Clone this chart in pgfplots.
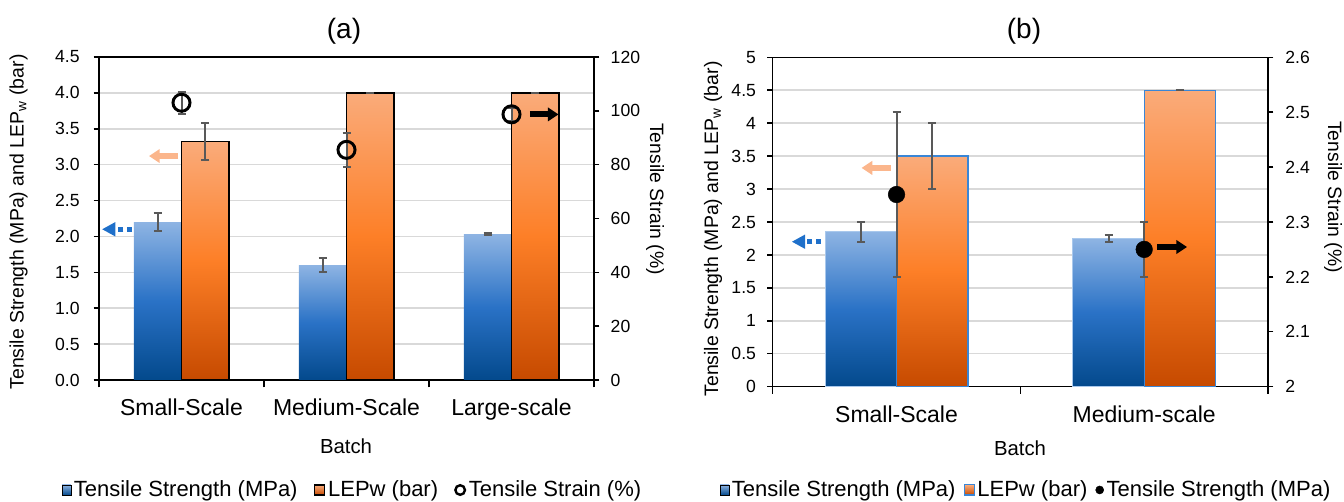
\documentclass[border=0pt]{standalone}
\usepackage{pgfplots}
\pgfplotsset{compat=1.18}
\usepackage{fontspec}
\setmainfont{Liberation Sans}
\usetikzlibrary{arrows.meta}
\definecolor{bTop}{HTML}{8EB4E3}
\definecolor{bMid}{HTML}{2A72C6}
\definecolor{bBot}{HTML}{03498C}
\definecolor{oTop}{HTML}{FAAB7A}
\definecolor{oMid}{HTML}{FD7F27}
\definecolor{oBot}{HTML}{C64A00}
\definecolor{ebar}{HTML}{595959}
\definecolor{gridc}{HTML}{D9D9D9}
\definecolor{arrOr}{HTML}{FBB68C}
\definecolor{arrBl}{HTML}{1F70CA}
\definecolor{bEdge}{HTML}{3A86D6}
\definecolor{bLight}{HTML}{A9C8EC}
\newcommand{\tickfont}{\fontsize{13.2}{15}\selectfont}
\pgfplotsset{
  common/.style={scale only axis, anchor=south west,
    axis line style={black, line width=1.1pt},
    tick style={black, line width=1.1pt},
    tick align=outside, major tick length=4pt, minor tick length=5.5pt,
    /pgf/number format/assume math mode=true,
    ticklabel style={font=\tickfont}},
  blueBar/.style={ybar, bar width=0.288, bar shift=0pt, draw=none,
    top color=bTop, bottom color=bBot, middle color=bMid, forget plot},
  orangeBar/.style={ybar, bar width=0.288, bar shift=0pt,
    top color=oTop, bottom color=oBot, middle color=oMid, forget plot},
  ebstyle/.style={error bars/.cd, y dir=both, y explicit,
    error mark=-,
    error bar style={draw=ebar, line width=1.5pt},
    error mark options={draw=ebar, line width=1.5pt, mark size=3pt, rotate=90}},
  errs/.style={forget plot, draw=none, mark=none, ebstyle},
}
\begin{document}
\begin{tikzpicture}
\useasboundingbox (0,0) rectangle (1008pt,376.5pt);
% ---------------- panel (a) ----------------
\begin{axis}[common, at={(74.25pt,91.5pt)}, width=371.25pt, height=242.25pt,
  xmin=-0.5, xmax=2.5, ymin=0, ymax=4.5,
  tick pos=left,
  ytick={0,0.5,1,1.5,2,2.5,3,3.5,4,4.5},
  yticklabel style={/pgf/number format/.cd, fixed, fixed zerofill, precision=1, /tikz/.cd, xshift=-7pt},
  xtick={0,1,2}, xticklabels={Small-Scale,Medium-Scale,Large-scale},
  minor xtick={-0.5,0.5,1.5,2.5}, major x tick style={draw=none},
  xticklabel style={font=\fontsize{17.25}{19}\selectfont, yshift=-6.5pt},
  ymajorgrids, major grid style={gridc, line width=1.1pt},
  legend style={at={(0.513,-0.3406)}, anchor=center, draw=none, fill=none,
    font=\fontsize{16.5}{18}\selectfont, legend columns=-1,
    /tikz/every even column/.append style={column sep=10pt}},
]
\addlegendimage{legend image code/.code={\shade[top color=bTop, bottom color=bBot] (0pt,-3.8pt) rectangle (6.5pt,3.8pt);}}
\addlegendentry{Tensile Strength (MPa)}
\addlegendimage{legend image code/.code={\draw[black, line width=0.9pt, top color=oTop, bottom color=oBot] (0pt,-3.8pt) rectangle (8pt,3.8pt);}}
\addlegendentry{LEPw (bar)}
\addlegendimage{legend image code/.code={\draw[black, line width=1.8pt] (4pt,0pt) circle (3.6pt);}}
\addlegendentry{Tensile Strain (\%)}
\addplot[blueBar] coordinates {(-0.144,2.2)};
\addplot[blueBar] coordinates {(0.856,1.6)};
\addplot[blueBar] coordinates {(1.856,2.03)};
\addplot[orangeBar, draw=black, line width=1.1pt] coordinates {(0.144,3.32)};
\addplot[orangeBar, draw=black, line width=1.1pt] coordinates {(1.144,4.0)};
\addplot[orangeBar, draw=black, line width=1.1pt] coordinates {(2.144,4.0)};
\addplot[errs] coordinates {
  (-0.144,2.2) +- (0,0.12)
  (0.144,3.32) +- (0,0.26)
  (0.856,1.6) +- (0,0.1)
  (1.144,4.0) +- (0,0.004)
  (1.856,2.03) +- (0,0.012)
  (2.144,4.0) +- (0,0.004)
};
\draw[arrOr, line width=4.5pt, -{Triangle[length=8pt,width=10pt]}] (axis cs:-0.021,3.12) -- (axis cs:-0.197,3.12);
\draw[arrBl, line width=3.6pt, dash pattern=on 4pt off 2.5pt, -{Triangle[length=10pt,width=10pt]}] (axis cs:-0.30,2.1) -- (axis cs:-0.482,2.1);
\draw[black, line width=4.5pt, -{Triangle[length=8pt,width=10pt]}] (axis cs:2.112,3.70) -- (axis cs:2.285,3.70);
\end{axis}
\begin{axis}[common, at={(74.25pt,91.5pt)}, width=371.25pt, height=242.25pt,
  xmin=-0.5, xmax=2.5, ymin=0, ymax=120,
  axis y line*=right, axis x line=none,
  ytick={0,20,40,60,80,100,120},
  yticklabel style={xshift=5pt},
]
\addplot[draw=none, mark=o, mark size=6.4pt, mark options={black, line width=2.2pt}, ebstyle]
  coordinates {(0,103) +- (0,4) (1,85.5) +- (0,6.2) (2,98.7) +- (0,2.5)};
\end{axis}
% ---------------- panel (b) ----------------
\begin{axis}[common, at={(579.5pt,86.5pt)}, width=371.5pt, height=247.05pt,
  xmin=-0.5, xmax=1.5, ymin=0, ymax=5,
  tick pos=left,
  ytick={0,0.5,1,1.5,2,2.5,3,3.5,4,4.5,5},
  yticklabel style={xshift=-5pt},
  xtick={0,1}, xticklabels={Small-Scale,Medium-scale},
  minor xtick={-0.5,0.5,1.5}, major x tick style={draw=none},
  xticklabel style={font=\fontsize{17.25}{19}\selectfont, yshift=-6.5pt},
  ymajorgrids, major grid style={gridc, line width=1.1pt},
  legend style={at={(0.5124,-0.3136)}, anchor=center, draw=none, fill=none,
    font=\fontsize{16.5}{18}\selectfont, legend columns=-1,
    /tikz/every even column/.append style={column sep=4pt}},
]
\addlegendimage{legend image code/.code={\shade[top color=bTop, bottom color=bBot] (0pt,-3.8pt) rectangle (6.5pt,3.8pt);}}
\addlegendentry{Tensile Strength (MPa)}
\addlegendimage{legend image code/.code={\draw[bEdge, line width=0.9pt, top color=oTop, bottom color=oBot] (0pt,-3.8pt) rectangle (7.5pt,3.8pt);}}
\addlegendentry{LEPw (bar)}
\addlegendimage{legend image code/.code={\fill[black] (3pt,0pt) circle (3pt);}}
\addlegendentry{Tensile Strength (MPa)}
\addplot[blueBar, draw=bLight, line width=0.6pt] coordinates {(-0.144,2.35)};
\addplot[blueBar, draw=bLight, line width=0.6pt] coordinates {(0.856,2.25)};
\addplot[orangeBar, draw=bEdge, line width=1pt] coordinates {(0.144,3.5)};
\addplot[orangeBar, draw=bEdge, line width=1pt] coordinates {(1.144,4.5)};
\addplot[errs] coordinates {
  (-0.144,2.35) +- (0,0.15)
  (0.144,3.5) +- (0,0.5)
  (0.856,2.25) +- (0,0.05)
  (1.144,4.5) +- (0,0.004)
};
\draw[arrOr, line width=4.5pt, -{Triangle[length=8pt,width=10pt]}] (axis cs:-0.024,3.32) -- (axis cs:-0.141,3.32);
\draw[arrBl, line width=3.6pt, dash pattern=on 4pt off 2.5pt, -{Triangle[length=10pt,width=10pt]}] (axis cs:-0.305,2.2) -- (axis cs:-0.423,2.2);
\draw[black, line width=4.5pt, -{Triangle[length=8pt,width=10pt]}] (axis cs:1.052,2.12) -- (axis cs:1.173,2.12);
\end{axis}
\begin{axis}[common, at={(579.5pt,86.5pt)}, width=371.5pt, height=247.05pt,
  xmin=-0.5, xmax=1.5, ymin=2, ymax=2.6,
  axis y line*=right, axis x line=none,
  ytick={2,2.1,2.2,2.3,2.4,2.5,2.6},
  yticklabel style={xshift=5.5pt},
]
\addplot[draw=none, mark=*, mark size=6.2pt, mark options={black}, ebstyle]
  coordinates {(0,2.35) +- (0,0.15) (1,2.25) +- (0,0.05)};
\end{axis}
% ---------------- labels ----------------
\node[font=\fontsize{21}{24}\selectfont] at (258pt,352.9pt) {(a)};
\node[font=\fontsize{21}{24}\selectfont] at (768pt,352.9pt) {(b)};
\node[font=\fontsize{15.25}{17}\selectfont] at (259.5pt,42pt) {Batch};
\node[font=\fontsize{15.25}{17}\selectfont] at (765pt,40.5pt) {Batch};
\node[rotate=90, font=\fontsize{14.6}{16}\selectfont] at (13.9pt,210pt) {Tensile Strength (MPa) and LEP\textsubscript{w} (bar)};
\node[rotate=90, font=\fontsize{14.6}{16}\selectfont] at (534.75pt,204.75pt) {Tensile Strength (MPa) and LEP\textsubscript{w} (bar)};
\node[rotate=-90, font=\fontsize{14.5}{16}\selectfont] at (491.25pt,227.25pt) {Tensile Strain (\%)};
\node[rotate=-90, font=\fontsize{14.5}{16}\selectfont] at (999.75pt,228.75pt) {Tensile Strain (\%)};
\end{tikzpicture}
\end{document}
